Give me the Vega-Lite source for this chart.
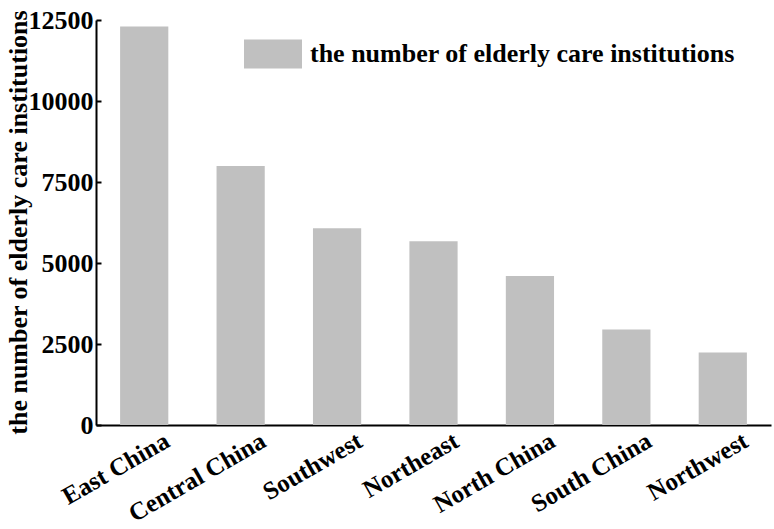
{
  "$schema": "https://vega.github.io/schema/vega-lite/v6.json",
  "width": 675,
  "height": 405,
  "autosize": {"type": "none"},
  "padding": {"left": 96, "top": 20, "right": 3, "bottom": 104},
  "background": "white",
  "config": {
    "view": {"stroke": null},
    "font": "Liberation Serif",
    "axis": {
      "domainColor": "black",
      "domainWidth": 2,
      "tickColor": "black",
      "tickWidth": 2,
      "tickSize": -5,
      "labelFont": "Liberation Serif",
      "labelFontWeight": "bold",
      "labelFontSize": 26,
      "labelColor": "black",
      "titleFont": "Liberation Serif",
      "titleFontWeight": "bold",
      "titleFontSize": 26,
      "titleColor": "black",
      "grid": false
    }
  },
  "data": {
    "values": [
      {"region": "East China", "count": 12300},
      {"region": "Central China", "count": 7990},
      {"region": "Southwest", "count": 6070},
      {"region": "Northeast", "count": 5670},
      {"region": "North China", "count": 4600},
      {"region": "South China", "count": 2950},
      {"region": "Northwest", "count": 2240}
    ]
  },
  "mark": {"type": "bar", "color": "#c0c0c0"},
  "encoding": {
    "x": {
      "field": "region",
      "type": "nominal",
      "sort": null,
      "scale": {"paddingInner": 0.5, "paddingOuter": 0.25},
      "axis": {
        "title": null,
        "labelAngle": -30,
        "labelAlign": "right",
        "labelBaseline": "top",
        "labelFontSize": 25,
        "labelPadding": 8,
        "labelOffset": 17
      }
    },
    "y": {
      "field": "count",
      "type": "quantitative",
      "scale": {"domain": [0, 12500], "nice": false},
      "axis": {
        "title": "the number of elderly care institutions",
        "values": [0, 2500, 5000, 7500, 10000, 12500],
        "format": "d",
        "labelPadding": 8,
        "titleX": -70,
        "titleY": 202,
        "titleAngle": -90,
        "titleAlign": "center",
        "titleBaseline": "alphabetic"
      }
    },
    "fill": {
      "datum": "the number of elderly care institutions",
      "type": "nominal",
      "scale": {"range": ["#c0c0c0"]},
      "legend": {
        "title": null,
        "orient": "none",
        "legendX": 148,
        "legendY": 5,
        "symbolType": "M-1,-0.5h2v1h-2z",
        "symbolSize": 3364,
        "symbolStrokeWidth": 0,
        "labelFont": "Liberation Serif",
        "labelFontWeight": "bold",
        "labelFontSize": 26,
        "labelColor": "black",
        "labelLimit": 600,
        "labelOffset": 8
      }
    }
  }
}
